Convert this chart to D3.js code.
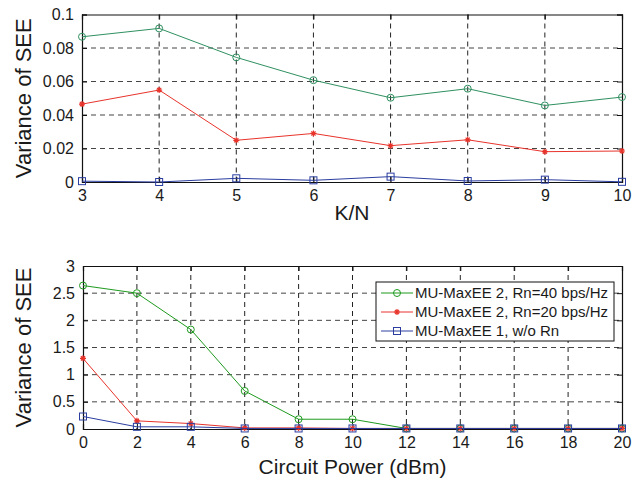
<!DOCTYPE html>
<html>
<head>
<meta charset="utf-8">
<script src="https://cdn.jsdelivr.net/npm/d3@7"></script>
<style>
  body { margin: 0; background: #fff; }
  svg text { font-family: "Liberation Sans", Arial, Helvetica, sans-serif; fill: #1a1a1a; }
</style>
</head>
<body>
<div id="chart"></div>
<script>
// --- Data ---
const kn = [3, 4, 5, 6, 7, 8, 9, 10];
const topGreen = [0.0867, 0.0917, 0.0744, 0.0608, 0.0503, 0.0557, 0.0457, 0.0507];
const topRed = [0.0465, 0.0549, 0.0249, 0.0290, 0.0217, 0.0252, 0.0181, 0.0185];
const topBlue = [0.0005, 0.0000, 0.0022, 0.0010, 0.0032, 0.0006, 0.0014, 0.0001];
const topYTicks = [0, 0.02, 0.04, 0.06, 0.08, 0.1];

const power = [0, 2, 4, 6, 8, 10, 12, 14, 16, 18, 20];
const botGreen = [2.64, 2.50, 1.83, 0.70, 0.18, 0.18, 0.01, 0.01, 0.01, 0.01, 0.01];
const botRed = [1.30, 0.15, 0.10, 0.02, 0.02, 0.01, 0.01, 0.01, 0.01, 0.01, 0.01];
const botBlue = [0.23, 0.04, 0.04, 0.01, 0.01, 0.01, 0.01, 0.01, 0.01, 0.01, 0.01];
const botYTicks = [0, 0.5, 1, 1.5, 2, 2.5, 3];

const legendLabels = ["MU-MaxEE 2, Rn=40 bps/Hz", "MU-MaxEE 2, Rn=20 bps/Hz", "MU-MaxEE 1, w/o Rn"];

const width = 642, height = 486;
const svg = d3.select("#chart").append("svg")
    .attr("width", width)
    .attr("height", height);

// draw a marker at (cx, cy)
function drawMarker(g, type, cx, cy, color) {
    if (type === "circle") {
        g.append("circle").attr("cx", cx).attr("cy", cy).attr("r", 3.5)
            .attr("fill", "none").attr("stroke", color).attr("stroke-width", 1);
    } else if (type === "square") {
        g.append("rect").attr("x", cx - 3.5).attr("y", cy - 3.5).attr("width", 7).attr("height", 7)
            .attr("fill", "none").attr("stroke", color).attr("stroke-width", 1);
    } else {
        // asterisk
        const r = 3;
        const d = `M${cx - r},${cy}L${cx + r},${cy}M${cx},${cy - r}L${cx},${cy + r}` +
            `M${cx - r * 0.7},${cy - r * 0.7}L${cx + r * 0.7},${cy + r * 0.7}` +
            `M${cx - r * 0.7},${cy + r * 0.7}L${cx + r * 0.7},${cy - r * 0.7}`;
        g.append("path").attr("d", d).attr("stroke", color).attr("stroke-width", 1.2);
    }
}

function renderPanel(opts) {
    const { box, xs, series, xDomain, yDomain, xTicks, yTicks, yFmt, xTitle, xTitleY, showLegend } = opts;
    const x = d3.scaleLinear().domain(xDomain).range([box.left, box.right]);
    const y = d3.scaleLinear().domain(yDomain).range([box.bottom, box.top]);
    const g = svg.append("g");

    // grid
    g.append("g").selectAll("line").data(xTicks.slice(1, -1)).join("line")
        .attr("x1", d => x(d)).attr("x2", d => x(d))
        .attr("y1", box.top).attr("y2", box.bottom)
        .attr("stroke", "#222").attr("stroke-width", 1).attr("stroke-dasharray", "5,4");
    g.append("g").selectAll("line").data(yTicks.slice(1, -1)).join("line")
        .attr("x1", box.left).attr("x2", box.right)
        .attr("y1", d => y(d)).attr("y2", d => y(d))
        .attr("stroke", "#444").attr("stroke-width", 1).attr("stroke-dasharray", "5,4");

    // axes (MATLAB-style inward ticks on all sides)
    const axB = g.append("g").attr("transform", `translate(0,${box.bottom})`)
        .call(d3.axisBottom(x).tickValues(xTicks).tickSize(-5).tickPadding(8).tickFormat(d3.format("d")));
    const axT = g.append("g").attr("transform", `translate(0,${box.top})`)
        .call(d3.axisTop(x).tickValues(xTicks).tickSize(-5).tickFormat(""));
    const axL = g.append("g").attr("transform", `translate(${box.left},0)`)
        .call(d3.axisLeft(y).tickValues(yTicks).tickSize(-5).tickPadding(8).tickFormat(yFmt));
    const axR = g.append("g").attr("transform", `translate(${box.right},0)`)
        .call(d3.axisRight(y).tickValues(yTicks).tickSize(-5).tickFormat(""));
    [axB, axT, axL, axR].forEach(a => {
        a.select(".domain").attr("stroke", "#111").attr("stroke-width", 1.2);
        a.selectAll(".tick line").attr("stroke", "#111");
        a.selectAll("text").style("font-size", "16px").attr("fill", "#1a1a1a")
            .style("font-family", '"Liberation Sans", Arial, sans-serif');
    });

    // series
    const line = d3.line().x((d, i) => x(xs[i])).y(d => y(d));
    series.forEach(s => {
        g.append("path").datum(s.values)
            .attr("fill", "none").attr("stroke", s.color).attr("stroke-width", 1)
            .attr("d", line);
        s.values.forEach((v, i) => drawMarker(g, s.marker, x(xs[i]), y(v), s.color));
    });

    // titles
    g.append("text")
        .attr("transform", `translate(31,${(box.top + box.bottom) / 2}) rotate(-90)`)
        .attr("text-anchor", "middle")
        .style("font-size", "22px")
        .text("Variance of SEE");
    g.append("text")
        .attr("x", (box.left + box.right) / 2).attr("y", xTitleY)
        .attr("text-anchor", "middle")
        .style("font-size", "21px")
        .text(xTitle);

    if (showLegend) {
        const lg = g.append("g");
        lg.append("rect").attr("x", 376).attr("y", 282).attr("width", 238).attr("height", 59)
            .attr("fill", "#fff").attr("stroke", "#111").attr("stroke-width", 1);
        series.forEach((s, i) => {
            const ly = 293 + i * 19;
            lg.append("line").attr("x1", 381).attr("x2", 413).attr("y1", ly).attr("y2", ly)
                .attr("stroke", s.color).attr("stroke-width", 1);
            drawMarker(lg, s.marker, 397, ly, s.color);
            lg.append("text").attr("x", 415).attr("y", ly + 5)
                .style("font-size", "15px").text(legendLabels[i]);
        });
    }
}

renderPanel({
    box: { left: 82, right: 622, top: 14.5, bottom: 182 },
    xs: kn,
    series: [
        { values: topGreen, color: "#2f9060", marker: "circle" },
        { values: topRed, color: "#e8332b", marker: "star" },
        { values: topBlue, color: "#2b3ea0", marker: "square" }
    ],
    xDomain: [3, 10], yDomain: [0, 0.1],
    xTicks: kn, yTicks: topYTicks,
    yFmt: d => d === 0 ? "0" : String(+d.toFixed(2)),
    xTitle: "K/N", xTitleY: 220,
    showLegend: false
});

renderPanel({
    box: { left: 83, right: 622, top: 266, bottom: 429 },
    xs: power,
    series: [
        { values: botGreen, color: "#1e9a1e", marker: "circle" },
        { values: botRed, color: "#e8332b", marker: "star" },
        { values: botBlue, color: "#2b3ea0", marker: "square" }
    ],
    xDomain: [0, 20], yDomain: [0, 3],
    xTicks: power, yTicks: botYTicks,
    yFmt: d => String(d),
    xTitle: "Circuit Power (dBm)", xTitleY: 474,
    showLegend: true
});
</script>
</body>
</html>
